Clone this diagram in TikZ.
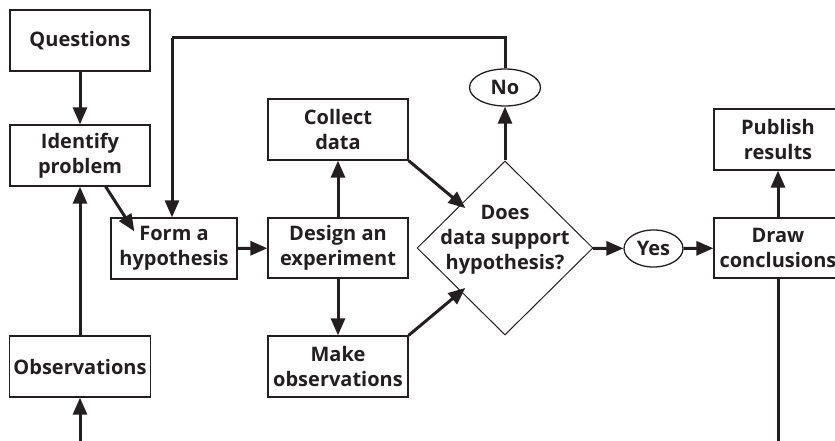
\documentclass[tikz,border=0pt]{standalone}
\usepackage{fontspec}
\setmainfont{Open Sans}
\usetikzlibrary{shapes.geometric,arrows.meta,calc}
\definecolor{ink}{RGB}{35,31,32}

\begin{document}
\begin{tikzpicture}[x=1pt,y=-1pt,
    box/.style={draw=ink, line width=1.3pt, text=ink, align=center,
      minimum width=140pt, minimum height=61pt, inner sep=0pt,
      font=\fontsize{20}{25}\selectfont\bfseries},
    oval/.style={box, ellipse, minimum height=37pt},
    arr/.style={draw=ink, line width=3pt,
      -{Triangle[length=17pt,width=14pt]}}]
  \useasboundingbox (0,0) rectangle (835,441);

  \node[box] (quest) at (80,40.5) {Questions};
  \node[box] (ident) at (80,155.5) {Identify\\problem};
  \node[box, minimum width=141pt] (obs) at (80,366.5) {Observations};
  \node[box, minimum width=126pt] (form) at (174,248.5) {Form a\\hypothesis};
  \node[box, minimum height=60pt] (design) at (338,248) {Design an\\experiment};
  \node[box] (collect) at (338,129.5) {Collect\\data};
  \node[box] (make) at (338,366.5) {Make\\observations};
  \node[box, diamond, line width=1pt, minimum width=176pt, minimum height=174pt,
    label={[box, draw=none, yshift=8pt]center:{Does\\data support\\hypothesis?}}]
    (check) at (505,248) {};
  \node[oval, minimum width=71pt] (no) at (505,87.5) {No};
  \node[oval, minimum width=59pt] (yes) at (653.5,248.5) {Yes};
  \node[box, minimum width=128pt, minimum height=60pt] (concl) at (778,248) {Draw\\conclusions};
  \node[box, minimum width=128pt] (publ) at (778,139.5) {Publish\\results};

  \coordinate (obsin) at (80,441);
  \coordinate (loop) at (172,38);
  \coordinate (out) at (778,441);

  \draw[arr] (quest) -- (ident);
  \draw[arr] (obsin) -- (obs);
  \draw[arr] (obs) -- (ident);
  \draw[arr] ([xshift=-45pt]ident.south east) -- ($(form.north west)+(24,14)$);
  \draw[arr] (form) -- (design);
  \draw[arr] (design) -- (collect);
  \draw[arr] (design) -- (make);
  \draw[arr, shorten >=-6pt] (collect.south east) -- (check.north west);
  \draw[arr, shorten >=-6pt] (make.north east) -- (check.south west);
  \draw[arr] (check) -- (no);
  \draw[arr, -] (no.north) |- (loop);
  \draw[arr] (loop) -- (loop |- form.north);
  \draw[arr] (check) -- (yes);
  \draw[arr] (yes) -- (concl);
  \draw[arr] (concl) -- (publ);
  \draw[arr, -] (concl) -- (out);
\end{tikzpicture}
\end{document}
